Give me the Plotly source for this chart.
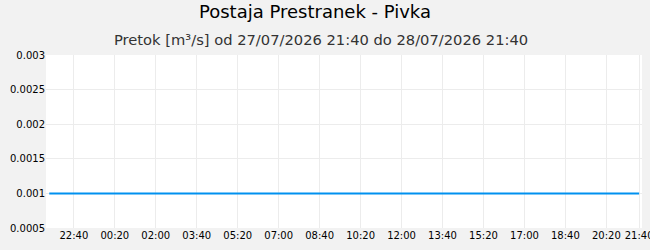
import plotly.graph_objects as go
import pandas as pd

times = pd.date_range("2026-07-27 21:40", "2026-07-28 21:40", freq="10min")
flow = [0.001] * len(times)

tick_vals = list(pd.date_range("2026-07-27 22:40", "2026-07-28 20:20", freq="100min")) + [pd.Timestamp("2026-07-28 21:40")]
tick_text = [t.strftime("%H:%M") for t in tick_vals]
y_ticks = [0.0005, 0.001, 0.0015, 0.002, 0.0025, 0.003]
y_text = ["0.0005", "0.001", "0.0015", "0.002", "0.0025", "0.003"]

fig = go.Figure()
fig.add_trace(go.Scatter(x=times, y=flow, mode="lines",
                         line=dict(color="#0091f0", width=2), hoverinfo="skip"))

top, bottom, left, right = 55, 22, 46, 8
plot_h = 250 - top - bottom
plot_w = 650 - left - right

fig.update_layout(
    width=650, height=250,
    margin=dict(l=left, r=right, t=top, b=bottom, autoexpand=False),
    paper_bgcolor="#f2f2f2", plot_bgcolor="#ffffff",
    showlegend=False,
    font=dict(family="DejaVu Sans", size=10, color="#000"),
    title=dict(text="Postaja Prestranek - Pivka", x=315/650, xanchor="center",
               y=1 - 12/250, yanchor="middle",
               font=dict(family="DejaVu Sans", size=18, color="#000")),
    annotations=[dict(text="Pretok [m³/s] od 27/07/2026 21:40 do 28/07/2026 21:40",
                      xref="paper", yref="paper", x=(321 - left) / plot_w,
                      y=1 + (top - 39) / plot_h,
                      xanchor="center", yanchor="middle", showarrow=False,
                      font=dict(family="DejaVu Sans", size=14.7, color="#333"))],
)

fig.update_xaxes(range=[pd.Timestamp("2026-07-27 21:32:00"), pd.Timestamp("2026-07-28 21:47:00")],
                 tickvals=tick_vals, ticktext=tick_text,
                 showgrid=True, gridcolor="#ececec", gridwidth=1,
                 zeroline=False, showline=False, ticks="", ticklen=0,
                 ticklabeloverflow="allow", automargin=False,
                 tickfont=dict(size=10, color="#000"))
fig.update_yaxes(range=[0.0005, 0.003], tickvals=y_ticks, ticktext=y_text,
                 showgrid=True, gridcolor="#ececec", gridwidth=1,
                 zeroline=False, showline=False, ticks="", automargin=False,
                 tickfont=dict(size=10, color="#000"))

fig.write_html("out.html")
